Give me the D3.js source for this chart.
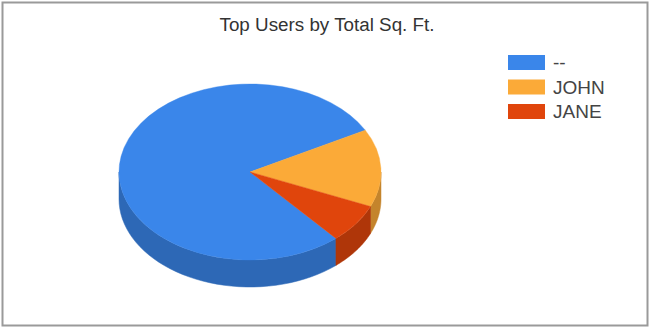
<!DOCTYPE html>
<html>
<head>
<meta charset="utf-8">
<script src="https://cdn.jsdelivr.net/npm/d3@7"></script>
<style>
  body { margin: 0; background: #fff; }
  svg { display: block; font-family: Arial, "Liberation Sans", sans-serif; }
</style>
</head>
<body>
<div class="chart"></div>
<script>
// data
var names = ['--', 'JOHN', 'JANE'];
var values = [78.5, 14.3, 7.2];
var colors = ['#3a86ea', '#fbaa38', '#e0450c'];
var title = 'Top Users by Total Sq. Ft.';

var width = 651, height = 329;
var cx = 250, cy = 172;
var rx = 131, ry = 88, depth = 27;

var svg = d3.select('.chart').append('svg')
  .attr('width', width)
  .attr('height', height);

// frame
svg.append('rect')
  .attr('x', 2.5).attr('y', 2.5)
  .attr('width', 645).attr('height', 323)
  .attr('fill', '#fff')
  .attr('stroke', '#9a9a9a')
  .attr('stroke-width', 2);

svg.append('text')
  .attr('x', 327).attr('y', 31)
  .attr('text-anchor', 'middle')
  .attr('font-size', 18)
  .attr('fill', '#333')
  .attr('textLength', 215)
  .attr('lengthAdjust', 'spacingAndGlyphs')
  .text(title);

var pie = d3.pie().sort(null)
  .startAngle(139 * Math.PI / 180)
  .endAngle(139 * Math.PI / 180 + 2 * Math.PI);

var slices = pie(values).map(function(d, i){ d.name = names[i]; d.color = colors[i]; return d; });

var g = svg.append('g');

function ex(a){ return cx + rx * Math.sin(a); }
function ey(a){ return cy - ry * Math.cos(a); }

// side walls (front half only: pi/2 .. 3pi/2)
slices.forEach(function(d){
  var segs = [];
  var lo = Math.PI / 2, hi = 3 * Math.PI / 2;
  [0, 2 * Math.PI].forEach(function(off){
    var a0 = Math.max(d.startAngle, lo + off);
    var a1 = Math.min(d.endAngle, hi + off);
    if (a1 > a0) segs.push([a0, a1]);
  });
  segs.forEach(function(s){
    var steps = 40;
    var top = d3.range(steps + 1).map(function(k){ return s[0] + (s[1] - s[0]) * k / steps; });
    var p = d3.path();
    p.moveTo(ex(top[0]), ey(top[0]));
    top.forEach(function(a){ p.lineTo(ex(a), ey(a)); });
    top.slice().reverse().forEach(function(a){ p.lineTo(ex(a), ey(a) + depth); });
    p.closePath();
    g.append('path')
      .attr('d', p.toString())
      .attr('fill', d3.color(d.color).darker(0.7))
      .attr('stroke', d3.color(d.color).darker(0.7))
      .attr('stroke-width', 0.5);
  });
});

// top faces
var arc = d3.arc().innerRadius(0).outerRadius(rx);
g.append('g')
  .attr('transform', 'translate(' + cx + ',' + cy + ') scale(1,' + (ry / rx) + ')')
  .selectAll('path')
  .data(slices)
  .join('path')
  .attr('d', arc)
  .attr('fill', function(d){ return d.color; })
  .attr('stroke', function(d){ return d.color; })
  .attr('stroke-width', 0.5);

// legend
var legend = svg.append('g').attr('transform', 'translate(508,55)');
var item = legend.selectAll('g')
  .data(names)
  .join('g')
  .attr('transform', function(d, i){ return 'translate(0,' + (i * 24.5) + ')'; });

item.append('rect')
  .attr('width', 37).attr('height', 15)
  .attr('fill', function(d, i){ return colors[i]; });

item.append('text')
  .attr('x', 45).attr('y', 14)
  .attr('font-size', 19)
  .attr('fill', '#444')
  .text(function(d){ return d; });
</script>
</body>
</html>
